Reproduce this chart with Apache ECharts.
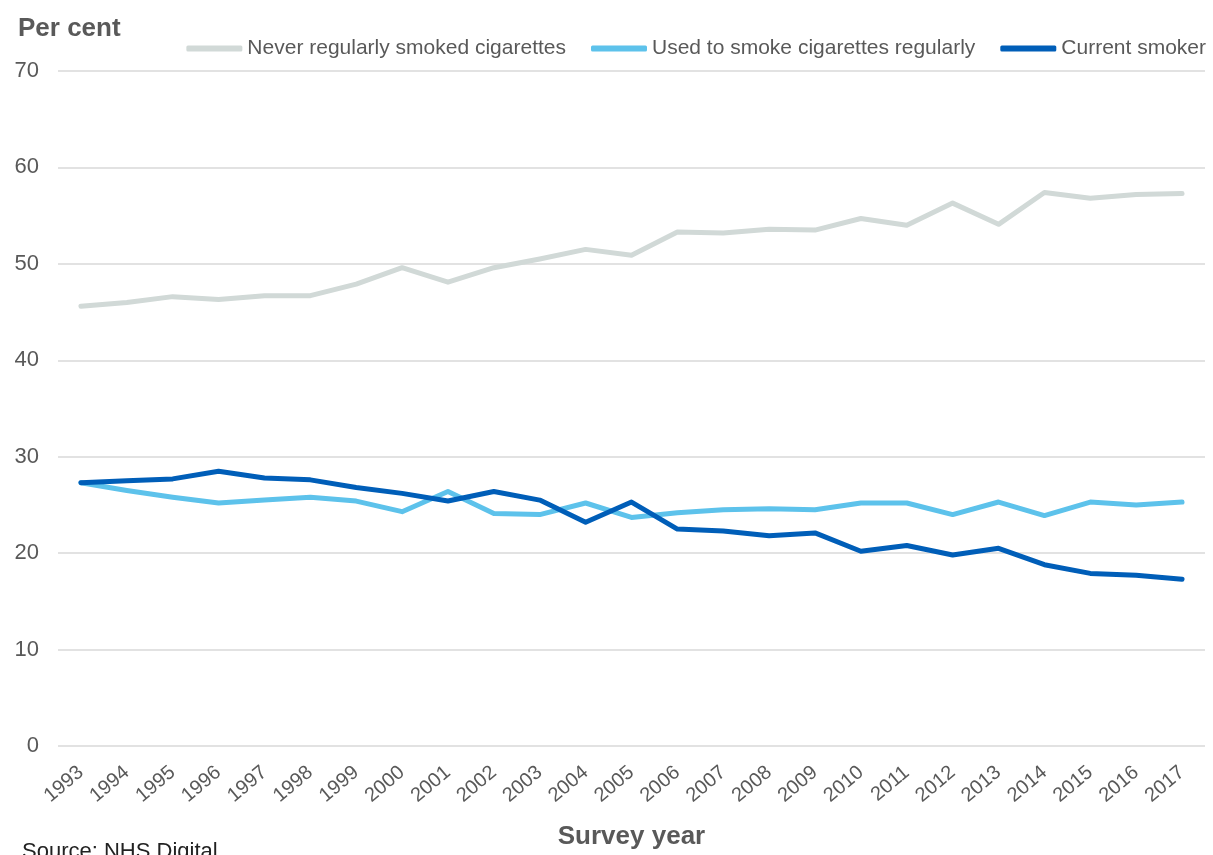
<!DOCTYPE html>
<html>
<head>
<meta charset="utf-8">
<script src="https://cdn.jsdelivr.net/npm/echarts@6/dist/echarts.min.js"></script>
<style>
  html, body { margin: 0; padding: 0; background: #fff; }
  #chart { width: 1213px; height: 855px; }
</style>
</head>
<body>
<div id="chart"></div>
<script>
// Survey years on the category axis
const years = ['1993','1994','1995','1996','1997','1998','1999','2000','2001','2002','2003','2004','2005',
  '2006','2007','2008','2009','2010','2011','2012','2013','2014','2015','2016','2017'];

// Per cent of pupils in each smoking group
const neverSmoked = [45.6, 46.0, 46.6, 46.3, 46.7, 46.7, 47.9, 49.6, 48.1, 49.6, 50.5, 51.5, 50.9,
  53.3, 53.2, 53.6, 53.5, 54.7, 54.0, 56.3, 54.1, 57.4, 56.8, 57.2, 57.3];
const usedToSmoke = [27.3, 26.5, 25.8, 25.2, 25.5, 25.8, 25.4, 24.3, 26.4, 24.1, 24.0, 25.2, 23.7,
  24.2, 24.5, 24.6, 24.5, 25.2, 25.2, 24.0, 25.3, 23.9, 25.3, 25.0, 25.3];
const currentSmoker = [27.3, 27.5, 27.7, 28.5, 27.8, 27.6, 26.8, 26.2, 25.4, 26.4, 25.5, 23.2, 25.3,
  22.5, 22.3, 21.8, 22.1, 20.2, 20.8, 19.8, 20.5, 18.8, 17.9, 17.7, 17.3];

const seriesNames = ['Never regularly smoked cigarettes', 'Used to smoke cigarettes regularly', 'Current smoker'];
const seriesColors = ['#D1D9D7', '#5DC2EB', '#005EB8'];
const seriesData = [neverSmoked, usedToSmoke, currentSmoker];

const FONT = '"Liberation Sans", Arial, sans-serif';
const TEXT = '#595959';

const chart = echarts.init(document.getElementById('chart'), null, { renderer: 'canvas' });

chart.setOption({
  animation: false,
  backgroundColor: '#ffffff',
  textStyle: { fontFamily: FONT },
  title: {
    text: 'Per cent',
    left: 13,
    top: 11,
    textStyle: { fontFamily: FONT, fontSize: 26, fontWeight: 'bold', color: TEXT }
  },
  legend: {
    right: 2,
    top: 33,
    itemWidth: 56,
    itemHeight: 6,
    itemGap: 25,
    icon: 'roundRect',
    textStyle: { fontFamily: FONT, fontSize: 21, color: TEXT },
    data: seriesNames
  },
  grid: { left: 58, right: 8, top: 71, bottom: 109, containLabel: false, outerBoundsMode: 'none' },
  xAxis: {
    type: 'category',
    data: years,
    boundaryGap: true,
    axisLine: { show: false },
    axisTick: { show: false },
    axisLabel: {
      rotate: 40,
      margin: 24,
      interval: 0,
      fontFamily: FONT,
      fontSize: 20,
      color: TEXT
    },
    name: 'Survey year',
    nameLocation: 'middle',
    nameGap: 78,
    nameTextStyle: { fontFamily: FONT, fontSize: 26, fontWeight: 'bold', color: TEXT }
  },
  yAxis: {
    type: 'value',
    min: 0,
    max: 70,
    interval: 10,
    axisLine: { show: false },
    axisTick: { show: false },
    axisLabel: { fontFamily: FONT, fontSize: 22, color: TEXT, margin: 19 },
    splitLine: { lineStyle: { color: '#D9D9D9', width: 1.5 } }
  },
  graphic: [{
    type: 'text',
    left: 22,
    top: 841,
    style: { text: 'Source: NHS Digital', font: '22px ' + FONT, fill: '#222222' }
  }],
  series: seriesNames.map((name, i) => ({
    name: name,
    type: 'line',
    data: seriesData[i],
    symbol: 'none',
    color: seriesColors[i],
    lineStyle: { width: 5, color: seriesColors[i], cap: 'round', join: 'round' },
    z: 2 + i
  }))
});
</script>
</body>
</html>
